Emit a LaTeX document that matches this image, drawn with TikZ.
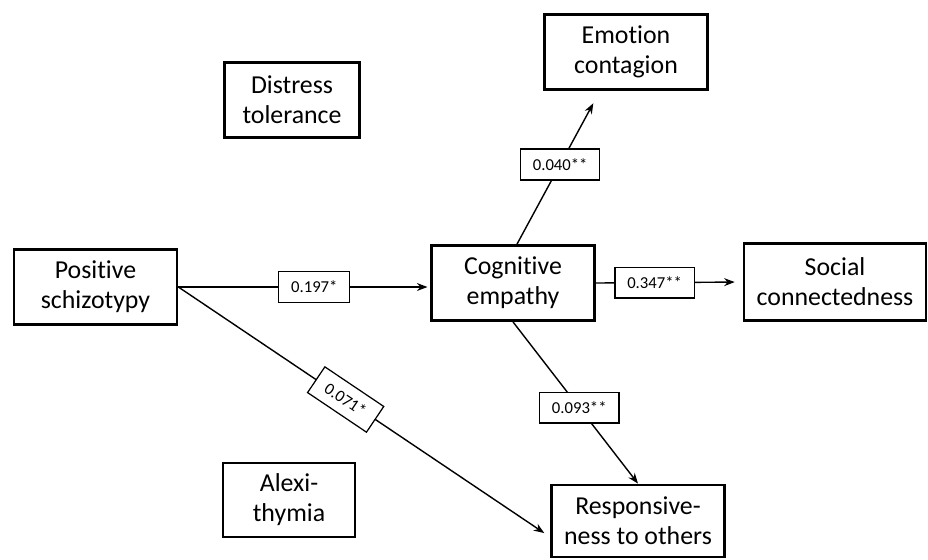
\documentclass[tikz,border=0pt]{standalone}
\usepackage{fontspec}
\setmainfont[Ligatures=NoCommon]{Carlito}
\usetikzlibrary{arrows.meta}

\begin{document}
\begin{tikzpicture}[x=0.02cm,y=-0.02cm,
  box/.style={draw,line width=1.6pt,align=center,minimum height=1.5cm,inner sep=2pt,font=\fontsize{14.7}{17}\selectfont},
  lab/.style={draw,fill=white,line width=0.7pt,minimum height=0.62cm,inner xsep=7pt,inner ysep=2pt,font=\fontsize{9.5}{11}\selectfont},
  arr/.style={line width=0.8pt,-{Stealth[length=6pt,width=4.5pt]}}]
\useasboundingbox (0,0) rectangle (928,559);
\node[box,minimum width=3.26cm] (ps) at (95.5,287) {Positive\\schizotypy};
\node[box,minimum width=2.7cm] (dt) at (292,100) {Distress\\tolerance};
\node[box,minimum width=2.64cm,minimum height=1.48cm] (al) at (289,500) {Alexi-\\thymia};
\node[box,minimum width=3.26cm] (ce) at (513,283) {Cognitive\\empathy};
\node[box,minimum width=3.26cm] (ec) at (626,52) {Emotion\\contagion};
\node[box,minimum width=3.64cm,minimum height=1.54cm] (sc) at (835,282) {Social\\connectedness};
\node[box,minimum width=3.46cm,minimum height=1.44cm] (ro) at (638,521) {Responsive-\\ness to others};

\draw[arr,shorten >=1.5pt] (ps.east) -- (ps.east -| ce.west) node[lab,pos=0.54] {0.197*};
\draw[arr,shorten >=4pt] (ps.east) -- ([yshift=-0.32cm]ro.west) node[lab,sloped,pos=0.45] {0.071*};
\draw[arr,shorten >=8pt] ([xshift=0.08cm]ce.north) -- ([xshift=-0.52cm]ec.south) node[lab,pos=0.52] {0.040**};
\draw[arr,shorten >=4.5pt] (ce.east) -- (sc.west) node[lab,pos=0.4] {0.347**};
\draw[arr] (ce.south) -- (ro.north) node[lab,pos=0.53] {0.093**};
\end{tikzpicture}
\end{document}
